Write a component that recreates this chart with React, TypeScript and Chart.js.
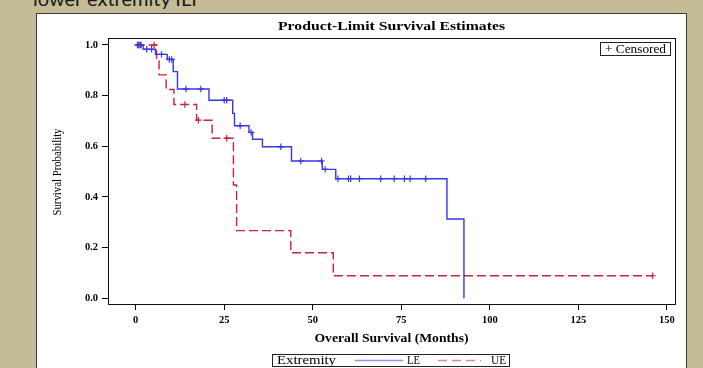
import React, { useEffect, useRef } from "react";
import { Chart, registerables } from "chart.js";

Chart.register(...registerables);

// ---- Data ----
const leTimes = [0, 2.1, 5.6, 8.9, 10.6, 11.8, 20.7, 27.4, 27.9, 32.0, 33.0, 35.8, 44.0, 52.7, 56.5, 87.9, 92.7];
const leSurv = [1.0, 0.983, 0.963, 0.943, 0.895, 0.826, 0.782, 0.73, 0.681, 0.655, 0.628, 0.598, 0.542, 0.509, 0.472, 0.313, 0.0];
const leCensTimes = [0.5, 1.0, 1.4, 3.1, 4.5, 7.3, 9.5, 10.2, 14.2, 18.4, 25.0, 25.7, 29.5, 32.6, 41.0, 46.6, 52.5, 53.5, 57.1, 60.1, 60.7, 63.2, 69.2, 73.0, 75.9, 77.5, 81.9];
const leCensSurv = [1.0, 1.0, 1.0, 0.983, 0.983, 0.963, 0.943, 0.943, 0.826, 0.826, 0.782, 0.782, 0.681, 0.655, 0.598, 0.542, 0.542, 0.509, 0.472, 0.472, 0.472, 0.472, 0.472, 0.472, 0.472, 0.472, 0.472];

const ueTimes = [0, 5.9, 6.6, 8.6, 10.8, 17.2, 21.6, 27.6, 28.5, 43.8, 55.8, 146];
const ueSurv = [1.0, 0.941, 0.882, 0.824, 0.765, 0.703, 0.632, 0.447, 0.267, 0.18, 0.089, 0.089];
const ueCensTimes = [0.7, 1.5, 5.2, 13.9, 17.7, 25.7, 146];
const ueCensSurv = [1.0, 1.0, 1.0, 0.765, 0.703, 0.632, 0.089];

const xTicks = [0, 25, 50, 75, 100, 125, 150];
const yTicks = [0, 0.2, 0.4, 0.6, 0.8, 1.0];
const yTickLabels = ["0.0", "0.2", "0.4", "0.6", "0.8", "1.0"];

const titleText = "Product-Limit Survival Estimates";
const xTitle = "Overall Survival (Months)";
const yTitle = "Survival Probability";
const legendTitle = "Extremity";
const seriesNames = ["LE", "UE"];
const censoredLabel = "+ Censored";
const slideText = "lower extremity ILI";

const BLUE = "rgb(55,55,228)";
const RED = "rgb(200,35,60)";
const SERIF = "'Liberation Serif', 'Times New Roman', serif";

function pts(xs: number[], ys: number[]) {
  return xs.map((x, i) => ({ x, y: ys[i] }));
}

function fitText(
  ctx: CanvasRenderingContext2D,
  text: string,
  x: number,
  y: number,
  font: string,
  width: number,
  align: CanvasTextAlign,
  rotate = false
) {
  ctx.save();
  ctx.font = font;
  const w = ctx.measureText(text).width;
  const s = width / w;
  ctx.translate(x, y);
  if (rotate) ctx.rotate(-Math.PI / 2);
  ctx.scale(s, 1);
  ctx.textAlign = align;
  ctx.textBaseline = "middle";
  ctx.fillStyle = "#000";
  ctx.fillText(text, 0, 0);
  ctx.restore();
}

const decorPlugin = {
  id: "decor",
  afterDraw(chart: any) {
    const ctx: CanvasRenderingContext2D = chart.ctx;
    const a = chart.chartArea;
    ctx.save();
    // frame
    ctx.strokeStyle = "#111";
    ctx.lineWidth = 1;
    ctx.strokeRect(Math.round(a.left) + 0.5, Math.round(a.top) + 0.5, Math.round(a.right - a.left), Math.round(a.bottom - a.top));
    const cx = (a.left + a.right) / 2;
    // title
    fitText(ctx, titleText, cx, 13, `bold 13px ${SERIF}`, 227, "center");
    // axis titles
    fitText(ctx, xTitle, cx, 325, `bold 11.5px ${SERIF}`, 154, "center");
    fitText(ctx, yTitle, 21, 158, `12.5px ${SERIF}`, 87, "center", true);
    // censored box
    ctx.strokeStyle = "#222";
    ctx.lineWidth = 1;
    ctx.strokeRect(563.5, 28.5, 70, 13);
    fitText(ctx, censoredLabel, 568, 35.5, `12px ${SERIF}`, 61, "left");
    // legend
    ctx.strokeRect(235.5, 340.5, 237, 12);
    fitText(ctx, legendTitle, 240, 347, `11.5px ${SERIF}`, 59, "left");
    ctx.lineWidth = 1.5;
    ctx.strokeStyle = "rgba(55,55,228,0.55)";
    ctx.beginPath();
    ctx.moveTo(318, 346.5);
    ctx.lineTo(366, 346.5);
    ctx.stroke();
    fitText(ctx, seriesNames[0], 370, 347, `11.5px ${SERIF}`, 13, "left");
    ctx.strokeStyle = "rgba(200,35,60,0.55)";
    ctx.setLineDash([9, 5]);
    ctx.beginPath();
    ctx.moveTo(401, 346.5);
    ctx.lineTo(444, 346.5);
    ctx.stroke();
    ctx.setLineDash([]);
    fitText(ctx, seriesNames[1], 454, 347, `11.5px ${SERIF}`, 15, "left");
    ctx.restore();
  },
};

export default function App() {
  const ref = useRef<HTMLCanvasElement | null>(null);

  useEffect(() => {
    if (!ref.current) return;
    const tickFont = { family: SERIF, size: 10.5, weight: "bold" as const };
    const chart = new Chart(ref.current, {
      type: "scatter",
      data: {
        datasets: [
          {
            label: seriesNames[0],
            data: pts(leTimes, leSurv),
            showLine: true,
            stepped: "before",
            borderColor: BLUE,
            borderWidth: 1.4,
            pointRadius: 0,
          },
          {
            label: seriesNames[1],
            data: pts(ueTimes, ueSurv),
            showLine: true,
            stepped: "before",
            borderColor: RED,
            borderWidth: 1.4,
            borderDash: [9, 4],
            pointRadius: 0,
          },
          {
            label: seriesNames[0] + " censored",
            data: pts(leCensTimes, leCensSurv),
            showLine: false,
            pointStyle: "cross",
            pointRadius: 3.2,
            pointBorderColor: BLUE,
            borderColor: BLUE,
            pointBorderWidth: 1.2,
          },
          {
            label: seriesNames[1] + " censored",
            data: pts(ueCensTimes, ueCensSurv),
            showLine: false,
            pointStyle: "cross",
            pointRadius: 3.2,
            pointBorderColor: RED,
            borderColor: RED,
            pointBorderWidth: 1.2,
          },
        ] as any,
      },
      options: {
        animation: false,
        responsive: false,
        events: [],
        layout: { padding: { top: 24, right: 11, left: 0, bottom: 0 } },
        plugins: {
          legend: { display: false },
          tooltip: { enabled: false },
          title: { display: false },
        },
        scales: {
          x: {
            type: "linear",
            min: -7.82,
            max: 152.3,
            afterFit: (s: any) => {
              s.height = 64;
            },
            afterBuildTicks: (s: any) => {
              s.ticks = xTicks.map((v) => ({ value: v }));
            },
            ticks: {
              font: tickFont,
              color: "#000",
              padding: 4,
              autoSkip: false,
              maxRotation: 0,
              callback: (v: any) => String(v),
            },
            grid: { drawOnChartArea: false, drawTicks: true, tickLength: 6, color: "#000" },
            border: { display: true, color: "#000", width: 1 },
          },
          y: {
            type: "linear",
            min: -0.0225,
            max: 1.0276,
            afterFit: (s: any) => {
              s.width = 71;
            },
            afterBuildTicks: (s: any) => {
              s.ticks = yTicks.map((v) => ({ value: v }));
            },
            ticks: {
              font: tickFont,
              color: "#000",
              padding: 4,
              autoSkip: false,
              callback: (_v: any, i: number) => yTickLabels[i],
            },
            grid: { drawOnChartArea: false, drawTicks: true, tickLength: 6, color: "#000" },
            border: { display: true, color: "#000", width: 1 },
          },
        },
      } as any,
      plugins: [decorPlugin],
    });
    return () => chart.destroy();
  }, []);

  return (
    <div
      style={{
        position: "fixed",
        left: 0,
        top: 0,
        width: 703,
        height: 368,
        overflow: "hidden",
        background: "#c4bc96",
      }}
    >
      <div
        style={{
          position: "absolute",
          left: 33,
          top: -12,
          fontFamily: "Lato, 'Liberation Sans', sans-serif",
          fontSize: 20,
          lineHeight: "20px",
          color: "#1a1a1a",
          whiteSpace: "nowrap",
        }}
      >
        {slideText}
      </div>
      <div
        style={{
          position: "absolute",
          left: 36,
          top: 13,
          width: 651,
          height: 362,
          boxSizing: "border-box",
          border: "1px solid #3a3a3a",
          background: "#fff",
        }}
      />
      <canvas
        ref={ref}
        width={649}
        height={354}
        style={{ position: "absolute", left: 37, top: 14, width: 649, height: 354 }}
      />
    </div>
  );
}
